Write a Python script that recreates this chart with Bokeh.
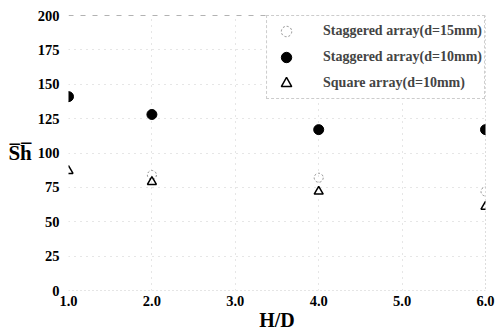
from bokeh.plotting import figure
from bokeh.models import Legend, LegendItem, Span, FixedTicker, Range1d
from bokeh.embed import file_html
from bokeh.resources import INLINE

# Axis ticks
x_ticks = [1, 2, 3, 4, 5, 6]
x_tick_labels = ["1.0", "2.0", "3.0", "4.0", "5.0", "6.0"]
y_ticks = [0, 25, 50, 75, 100, 125, 150, 175, 200]

# Mean Sherwood number vs. H/D
hd_stag15 = [2, 4, 6]
sh_stag15 = [84, 82, 72]

hd_stag10 = [1, 2, 4, 6]
sh_stag10 = [141, 128, 117, 117]

hd_sq10 = [1, 2, 4, 6]
sh_sq10 = [87, 79, 72, 61]

SERIF = "Liberation Serif"

p = figure(width=497, height=333, output_backend="svg", toolbar_location=None,
           x_range=Range1d(1, 6), y_range=Range1d(0, 200),
           min_border_left=68, min_border_right=12,
           min_border_top=15, min_border_bottom=36)
p.outline_line_color = None
p.background_fill_color = "white"

# axes: labels only, no lines or ticks
for ax in (p.xaxis, p.yaxis):
    ax.axis_line_color = None
    ax.major_tick_line_color = None
    ax.minor_tick_line_color = None
    ax.major_tick_out = 0
    ax.major_tick_in = 0
    ax.minor_tick_out = 0
    ax.minor_tick_in = 0
    ax.major_label_text_font = SERIF
    ax.major_label_text_font_style = "bold"
    ax.major_label_text_font_size = "14.5px"
    ax.major_label_text_color = "black"
    ax.axis_label_text_font = SERIF
    ax.axis_label_text_font_style = "bold"
    ax.axis_label_text_color = "black"

p.xaxis.ticker = FixedTicker(ticks=x_ticks)
p.xaxis.major_label_overrides = {t: s for t, s in zip(x_ticks, x_tick_labels)}
p.xaxis.major_label_standoff = 5
p.xaxis.axis_label = "H/D"
p.xaxis.axis_label_text_font_size = "20px"
p.xaxis.axis_label_standoff = 0

p.yaxis.ticker = FixedTicker(ticks=y_ticks)
p.yaxis.major_label_standoff = 9
p.yaxis.axis_label = "S\u0305h\u0305"
p.yaxis.axis_label_orientation = "horizontal"
p.yaxis.axis_label_text_font_size = "21px"
p.yaxis.axis_label_standoff = 3

# faint dotted grid
p.xgrid.grid_line_color = "#cccccc"
p.xgrid.grid_line_dash = "1 5"
p.ygrid.grid_line_color = "#cccccc"
p.ygrid.grid_line_dash = "1 5"

# frame edges: dashed top, dotted right and bottom
p.add_layout(Span(location=200, dimension="width", line_color="#666666",
                  line_dash="5 7", line_width=1))
p.add_layout(Span(location=6, dimension="height", line_color="#777777",
                  line_dash="1 3", line_width=1))
p.add_layout(Span(location=0, dimension="width", line_color="#999999",
                  line_dash="1 3", line_width=1))

r15 = p.scatter(hd_stag15, sh_stag15, marker="circle", size=9,
                fill_color=None, line_color="#8a8a8a", line_dash="2 2",
                line_width=1)
r10 = p.scatter(hd_stag10, sh_stag10, marker="circle", size=10,
                fill_color="black", line_color="black")
rsq = p.scatter(hd_sq10, sh_sq10, marker="triangle", size=9,
                fill_color=None, line_color="black", line_width=1.5)

legend = Legend(items=[
    LegendItem(label="Staggered array(d=15mm)", renderers=[r15]),
    LegendItem(label="Staggered array(d=10mm)", renderers=[r10]),
    LegendItem(label="Square array(d=10mm)", renderers=[rsq]),
], location="top_right")
legend.margin = 0
legend.padding = 2
legend.spacing = 0
legend.glyph_width = 34
legend.glyph_height = 26
legend.label_height = 26
legend.label_standoff = 20
legend.label_text_font = SERIF
legend.label_text_font_style = "bold"
legend.label_text_font_size = "14px"
legend.border_line_color = "#9a9a9a"
legend.border_line_dash = "1 3"
legend.background_fill_color = "white"
legend.background_fill_alpha = 1.0
p.add_layout(legend)

open("out.html", "w").write(file_html(p, INLINE))
